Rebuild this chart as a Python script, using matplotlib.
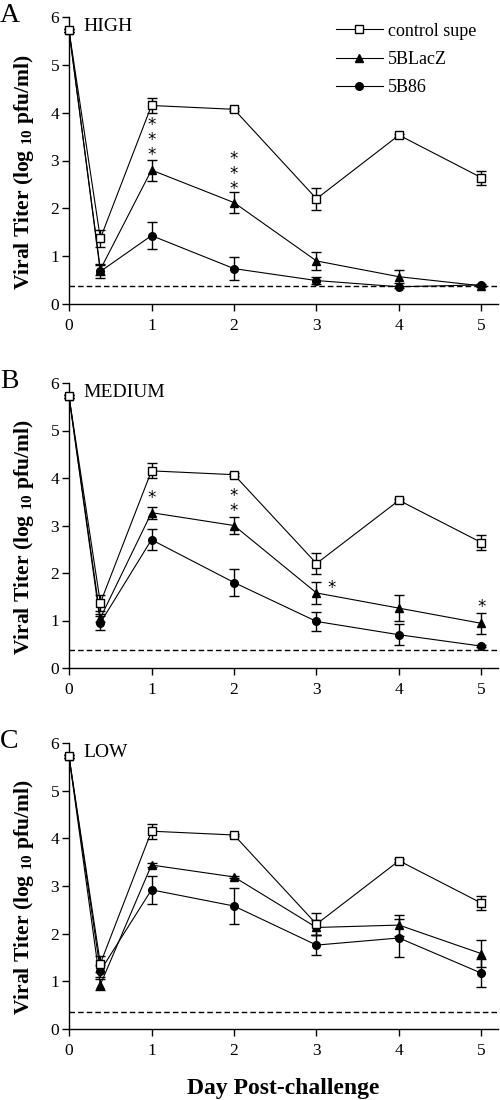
import matplotlib
matplotlib.use("Agg")
import matplotlib.pyplot as plt
from matplotlib.lines import Line2D

plt.rcParams['font.family'] = ['Liberation Serif', 'DejaVu Serif']
plt.rcParams['mathtext.fontset'] = 'custom'
plt.rcParams['mathtext.rm'] = 'Liberation Serif'
plt.rcParams['mathtext.bf'] = 'Liberation Serif:bold'

# ---------------- data ----------------
days = [0, 0.38, 1, 2, 3, 4, 5]
series_names = ["control supe", "5BLacZ", "5B86"]
panel_letters = ["A", "B", "C"]
panel_titles = ["HIGH", "MEDIUM", "LOW"]

control = [5.72, 1.37, 4.15, 4.07, 2.20, 3.53, 2.64]
control_err = [0.03, 0.17, 0.16, 0.03, 0.23, 0.03, 0.15]

high_lacz = [5.72, 0.72, 2.80, 2.12, 0.90, 0.57, 0.38]
high_lacz_err = [0.03, 0.12, 0.22, 0.22, 0.18, 0.14, 0.02]
high_b86 = [5.72, 0.68, 1.43, 0.74, 0.49, 0.36, 0.40]
high_b86_err = [0.03, 0.14, 0.29, 0.24, 0.08, 0.02, 0.02]

med_lacz = [5.72, 1.05, 3.27, 3.00, 1.58, 1.26, 0.94]
med_lacz_err = [0.03, 0.08, 0.13, 0.17, 0.24, 0.28, 0.22]
med_b86 = [5.72, 0.95, 2.70, 1.80, 0.98, 0.70, 0.46]
med_b86_err = [0.03, 0.14, 0.22, 0.29, 0.20, 0.22, 0.02]

low_lacz = [5.72, 0.93, 3.44, 3.19, 2.13, 2.18, 1.58]
low_lacz_err = [0.03, 0.12, 0.04, 0.03, 0.15, 0.22, 0.28]
low_b86 = [5.72, 1.22, 2.92, 2.58, 1.76, 1.91, 1.17]
low_b86_err = [0.03, 0.12, 0.30, 0.37, 0.21, 0.39, 0.29]

detection_limit = [0.37, 0.37, 0.36]

# significance stars: panel index, day, centre level, text
star_panel = [0, 0, 1, 1, 1, 1]
star_day = [1, 2, 1, 2, 3.18, 5]
star_level = [3.42, 2.72, 3.58, 3.47, 1.68, 1.29]
star_text = ["*\n*\n*", "*\n*\n*", "*", "*\n*", "*", "*"]

x_ticks = [0, 1, 2, 3, 4, 5]
y_ticks = [0, 1, 2, 3, 4, 5, 6]

panels = [
    (control, control_err, high_lacz, high_lacz_err, high_b86, high_b86_err),
    (control, control_err, med_lacz, med_lacz_err, med_b86, med_b86_err),
    (control, control_err, low_lacz, low_lacz_err, low_b86, low_b86_err),
]

# ---------------- figure ----------------
fig = plt.figure(figsize=(5, 11), dpi=100)
W, H = 500, 1100
boxes = [(69, 17, 304), (69, 383, 668), (69, 743, 1029)]
right_px = 498

markers = ['s', '^', 'o']
mfc = ['white', 'black', 'black']
msize = [6, 6, 5.5]

for i, (ax_box, data) in enumerate(zip(boxes, panels)):
    l, t, b = ax_box
    ax = fig.add_axes([l / W, 1 - b / H, (right_px - l) / W, (b - t) / H])
    ax.set_xlim(0, 5.2)
    ax.set_ylim(0, 6)
    for s in ['top', 'right']:
        ax.spines[s].set_visible(False)
    for s in ['left', 'bottom']:
        ax.spines[s].set_linewidth(1.0)
    ax.set_xticks(x_ticks)
    ax.set_yticks(y_ticks)
    ax.tick_params(direction='out', length=5, width=1.0, labelsize=12.5)
    ax.tick_params(axis='x', pad=5)
    ax.tick_params(axis='y', pad=2)

    ax.axhline(detection_limit[i], color='black', lw=1.0, dashes=(4, 2.2), zorder=1)

    vals = [(data[0], data[1]), (data[2], data[3]), (data[4], data[5])]
    for k, (v, e) in enumerate(vals):
        ax.errorbar(days, v, yerr=e, color='black', lw=0.8, elinewidth=1.0,
                    capsize=3.8, capthick=1.0, marker=markers[k], ms=msize[k],
                    mfc=mfc[k], mec='black', mew=1.0,
                    zorder=3 + (2 - k), clip_on=False)

    for p, d, lv, st in zip(star_panel, star_day, star_level, star_text):
        if p == i:
            ax.text(d, lv, st, family='DejaVu Sans', fontsize=12,
                    ha='center', va='center', linespacing=0.78, zorder=6)

    ax.text(0.18, 5.98, panel_titles[i], fontsize=14, ha='left', va='top')
    fig.text(0, 1 - (t - 14) / H, panel_letters[i], fontsize=20,
             ha='left', va='top')
    ax.set_ylabel(r'Viral Titer (log $_{\mathbf{10}}$ pfu/ml)',
                  fontsize=15.5, fontweight='bold')
    ax.yaxis.set_label_coords(-0.078, 0.46)

    if i == 0:
        handles = [Line2D([], [], color='black', lw=0.8, marker=markers[k],
                          ms=msize[k], mfc=mfc[k], mec='black', mew=1.0)
                   for k in range(3)]
        ax.legend(handles, series_names, loc='upper left',
                  bbox_to_anchor=(0.605, 1.005), frameon=False, fontsize=13,
                  handlelength=2.6, handletextpad=0.3, labelspacing=0.62,
                  borderaxespad=0)
    if i == 2:
        ax.set_xlabel('Day Post-challenge', fontsize=17, fontweight='bold',
                      labelpad=14)

fig.savefig('out.png', dpi=100)
